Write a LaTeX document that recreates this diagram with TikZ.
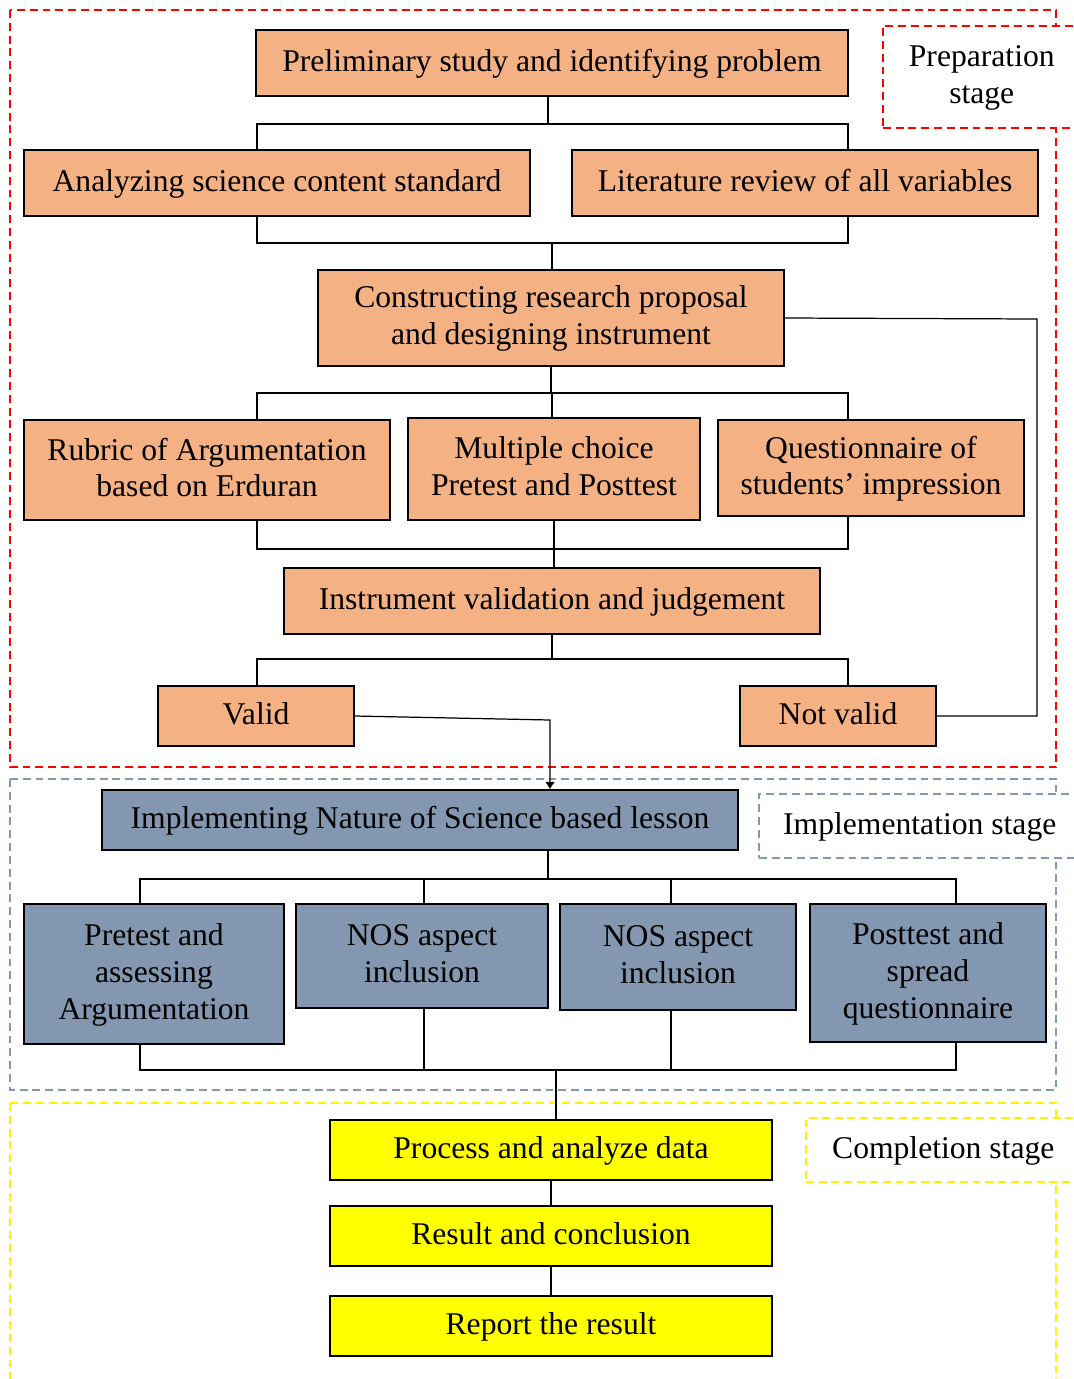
\documentclass[tikz,border=0pt]{standalone}
\usepackage{fontspec}
\setmainfont{Liberation Serif}
\usetikzlibrary{arrows.meta,positioning}

\definecolor{prepfill}{RGB}{244,177,131}
\definecolor{implfill}{RGB}{132,151,176}
\definecolor{compfill}{RGB}{255,255,0}

\begin{document}
\begin{tikzpicture}[
    x=0.02cm, y=-0.02cm,
    box/.style={draw, line width=0.8pt, align=center, inner sep=2pt,
                text depth=0.3em, font=\fontsize{18}{21}\selectfont},
    prep/.style={box, fill=prepfill},
    impl/.style={box, fill=implfill},
    comp/.style={box, fill=compfill},
    stage/.style={dash pattern=on 4.5pt off 2.8pt, line width=0.9pt},
    stagelabel/.style={stage, fill=white, align=center, anchor=north west,
                text depth=0.3em, font=\fontsize{18}{21}\selectfont},
    link/.style={line width=0.7pt},
    arrow/.style={link, -{Latex[length=1.5mm, width=2mm]}}
]
\useasboundingbox (0,0) rectangle (1073,1379);

% stage frames
\draw[stage, red] (10,10) rectangle (1056,767);
\draw[stage, implfill] (10,779) rectangle (1056,1090);
\draw[stage, yellow] (10,1103) rectangle (1056,1395);
\node[stagelabel, draw=red, minimum width=3.96cm, minimum height=2.04cm]
    (preplabel) at (882,25) {Preparation\\stage};
\node[stagelabel, draw=implfill, minimum width=6.44cm, minimum height=1.28cm]
    (impllabel) at (758,793) {Implementation stage};
\node[stagelabel, draw=yellow, minimum width=5.5cm, minimum height=1.28cm]
    (complabel) at (805,1117) {Completion stage};

% preparation
\node[prep, minimum width=11.84cm, minimum height=1.32cm] (prelim) at (552,63)
    {Preliminary study and identifying problem};
\node[prep, minimum width=10.12cm, minimum height=1.32cm] (analyze) at (277,183)
    {Analyzing science content standard};
\node[prep, minimum width=9.32cm, minimum height=1.32cm] (litrev) at (805,183)
    {Literature review of all variables};
\node[prep, minimum width=9.32cm, minimum height=1.92cm] (construct) at (551,318)
    {Constructing research proposal\\and designing instrument};
\node[prep, minimum width=7.32cm, minimum height=2.0cm] (rubric) at (207,470)
    {Rubric of Argumentation\\based on Erduran};
\node[prep, minimum width=5.84cm, minimum height=2.04cm] (mcq) at (554,469)
    {Multiple choice\\Pretest and Posttest};
\node[prep, minimum width=6.12cm, minimum height=1.92cm] (quest) at (871,468)
    {Questionnaire of\\students’ impression};
\node[prep, minimum width=10.72cm, minimum height=1.32cm] (judge) at (552,601)
    {Instrument validation and judgement};
\node[prep, minimum width=3.92cm, minimum height=1.2cm] (valid) at (256,716) {Valid};
\node[prep, minimum width=3.92cm, minimum height=1.2cm] (notvalid) at (838,716) {Not valid};

% implementation
\node[impl, minimum width=12.72cm, minimum height=1.2cm] (implement) at (420,820)
    {Implementing Nature of Science based lesson};
\node[impl, minimum width=5.2cm, minimum height=2.8cm] (pretest) at (154,974)
    {Pretest and\\assessing\\Argumentation};
\node[impl, minimum width=5.04cm, minimum height=2.08cm] (nos1) at (422,956)
    {NOS aspect\\inclusion};
\node[impl, minimum width=4.72cm, minimum height=2.12cm] (nos2) at (678,957)
    {NOS aspect\\inclusion};
\node[impl, minimum width=4.72cm, minimum height=2.76cm] (posttest) at (928,973)
    {Posttest and\\spread\\questionnaire};

% completion
\node[comp, minimum width=8.84cm, minimum height=1.2cm] (process) at (551,1150)
    {Process and analyze data};
\node[comp, minimum width=8.84cm, minimum height=1.2cm] (result) at (551,1236)
    {Result and conclusion};
\node[comp, minimum width=8.84cm, minimum height=1.2cm] (report) at (551,1326)
    {Report the result};

% columns and buses
\coordinate (colL) at (257,0);
\coordinate (colR) at (848,0);
\coordinate (c1) at (140,0);
\coordinate (c2) at (424,0);
\coordinate (c3) at (671,0);
\coordinate (c4) at (956,0);
\coordinate (bus1) at (548,124);
\coordinate (bus2) at (552,243);
\coordinate (bus3) at (552,393);
\coordinate (bus4) at (554,549);
\coordinate (bus5) at (552,659);
\coordinate (drop) at (550,720);
\coordinate (loopR) at (1037,319);
\coordinate (bus6) at (548,879);
\coordinate (bus7) at (556,1070);

\draw[link] (prelim.south -| bus1) -- (bus1);
\draw[link] (analyze.north -| colL) |- (bus1) -| (litrev.north -| colR);
\draw[link] (analyze.south -| colL) |- (bus2) -| (litrev.south -| colR);
\draw[link] (bus2) -- (construct.north -| bus2);
\draw[link] (construct.south) -- (construct.south |- bus3);
\draw[link] (rubric.north -| colL) |- (bus3) -| (quest.north -| colR);
\draw[link] (bus3) -- (mcq.north -| bus3);
\draw[link] (rubric.south -| colL) |- (bus4) -| (quest.south -| colR);
\draw[link] (mcq.south) -- (mcq.south |- judge.north);
\draw[link] (judge.south) -- (bus5);
\draw[link] (valid.north -| colL) |- (bus5) -| (notvalid.north -| colR);
\draw[arrow] (valid.east) -- (drop) -- (implement.north -| drop);
\draw[link] (construct.east) -- (loopR) -- (loopR |- notvalid.east) -- (notvalid.east);

\draw[link] (implement.south -| bus6) -- (bus6);
\draw[link] (pretest.north -| c1) |- (bus6) -| (posttest.north -| c4);
\draw[link] (nos1.north -| c2) -- (c2 |- bus6);
\draw[link] (nos2.north -| c3) -- (c3 |- bus6);
\draw[link] (pretest.south -| c1) |- (bus7) -| (posttest.south -| c4);
\draw[link] (nos1.south -| c2) -- (c2 |- bus7);
\draw[link] (nos2.south -| c3) -- (c3 |- bus7);
\draw[link] (bus7) -- (process.north -| bus7);
\draw[link] (process) -- (result);
\draw[link] (result) -- (report);

\end{tikzpicture}
\end{document}
